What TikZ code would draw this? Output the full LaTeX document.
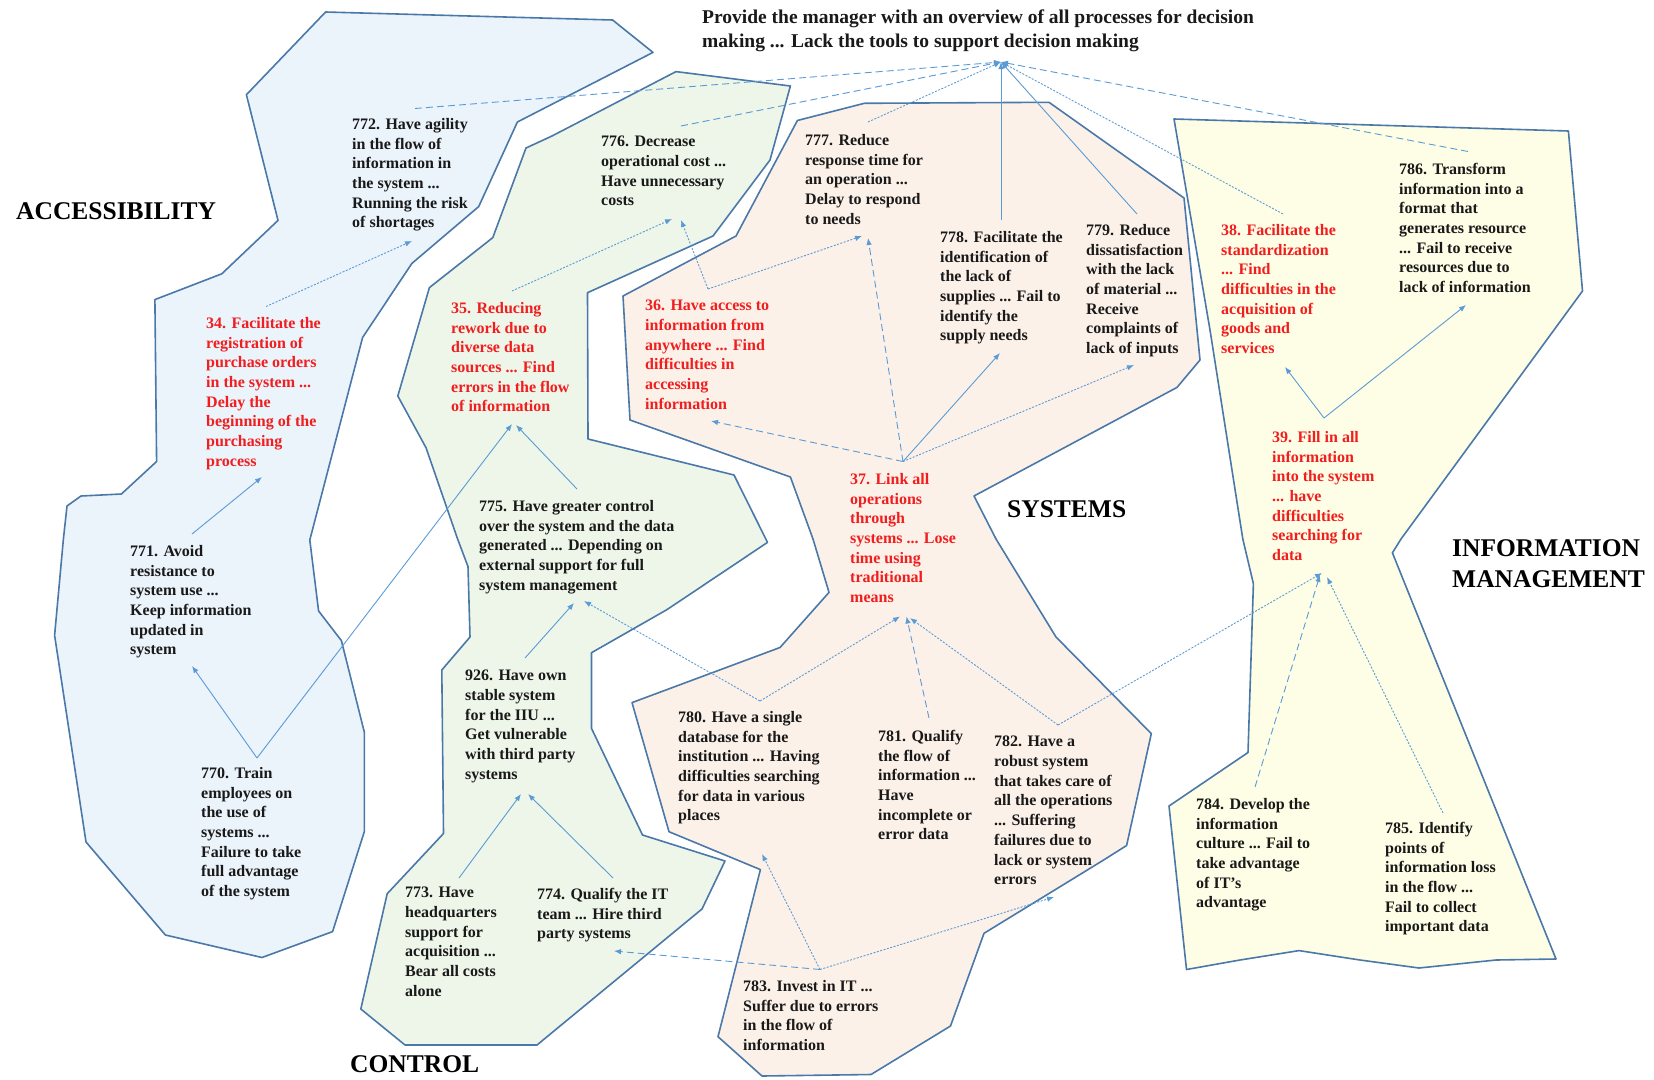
\documentclass[tikz,border=0pt]{standalone}
\usepackage{fontspec}
\setmainfont{Liberation Serif}
\usetikzlibrary{positioning, calc, arrows.meta}

\definecolor{accfill}{RGB}{235,243,251}
\definecolor{ctlfill}{RGB}{238,246,233}
\definecolor{sysfill}{RGB}{252,241,233}
\definecolor{infofill}{RGB}{254,254,230}
\definecolor{zoneline}{RGB}{74,120,168}
\definecolor{linkblue}{RGB}{91,155,213}
\definecolor{goalred}{RGB}{240,30,30}

\begin{document}
\begin{tikzpicture}[x=1pt, y=-1pt,
		box/.style={anchor=north west, inner sep=0pt, align=left, text=black!90, font=\bfseries\fontsize{16}{19.7}\selectfont},
		goalbox/.style={box, text=goalred},
		area/.style={anchor=west, inner sep=0pt, align=left, font=\bfseries\fontsize{25.5}{31}\selectfont},
		zone/.style={draw=zoneline, line width=1.6pt, line join=round},
		solidlink/.style={draw=linkblue, line width=0.9pt, -{Latex[length=7pt,width=5.5pt]}},
		dashedlink/.style={solidlink, dash pattern=on 7pt off 4pt},
		dottedlink/.style={solidlink, dash pattern=on 2pt off 1.5pt}]
			\useasboundingbox (0,0) rectangle (1654,1079);
			
			\draw [zone, fill=accfill] (325.6,12) -- (612.6,20) -- (653,52.4) -- (517.4,122) -- (478.7,206.6) -- (411.8,263.5) -- (362.6,337.5) -- (309.8,540) -- (318.6,611) -- (341.4,640.6) -- (364.3,732) -- (364.3,831.7) -- (332.6,931.6) -- (262,957.5) -- (165.4,935) -- (86,842) -- (54.6,635.4) -- (63.4,539) -- (67,506) -- (81,496) -- (121.4,494) -- (156.6,461.5) -- (154.9,299.6) -- (221.8,273.8) -- (278,220.4) -- (246.4,94.7) -- cycle;
			\draw [zone, fill=ctlfill] (676,71.6) -- (790.4,86) -- (770,160) -- (713,236) -- (587.5,292.7) -- (588,439) -- (734,475) -- (767.5,542.4) -- (667,609.6) -- (591.5,652.7) -- (591.5,728.4) -- (642.5,835) -- (725,861) -- (702,909) -- (537,1045) -- (405,1045) -- (360.8,1009) -- (387.2,893.7) -- (443.5,833.5) -- (441.8,670) -- (470,637) -- (468,566.6) -- (457.6,539) -- (426,447.7) -- (397.8,396) -- (429.4,287.6) -- (492.8,237.6) -- (526,148) -- (552,136) -- cycle;
			\draw [zone, fill=sysfill] (864.3,103.3) -- (1049,102.3) -- (1184,198) -- (1200,360) -- (1177,387.4) -- (974,496) -- (996,539) -- (1056,637) -- (1151.3,733.6) -- (1126.6,845.5) -- (1102,861) -- (984,933.3) -- (950.5,1026) -- (871,1074.5) -- (762,1076) -- (718,1036.7) -- (760.4,869.6) -- (669,831.7) -- (632,702.6) -- (780,647.5) -- (829,592.4) -- (813,539) -- (790.4,477) -- (630,420) -- (623,296) -- (736,236) -- (797.4,120.5) -- cycle;
			\draw [zone, fill=infofill] (1174,119) -- (1568.4,131) -- (1582.5,291) -- (1401,539) -- (1392.4,552.8) -- (1556,959) -- (1496,960) -- (1419,968) -- (1360,960) -- (1299,950.6) -- (1240,960) -- (1186.5,969.5) -- (1169,806) -- (1248,752.5) -- (1253.4,583.8) -- (1242.8,539) -- (1210,330) -- cycle;
			
			\node (acc) [area] at (16,211) {ACCESSIBILITY};
			\node (ctl) [area] at (350,1064) {CONTROL};
			\node (sys) [area] at (1007,509.5) {SYSTEMS};
			\node (info) [area, anchor=north west] at (1452,539) {INFORMATION\\MANAGEMENT};
			
			\node (goal) [box, font=\bfseries\fontsize{19.5}{24}\selectfont] at (702,10) {Provide the manager with an overview of all processes for decision\\making ... Lack the tools to support decision making};
			
			\node (n772) [box] at (352,118) {772. Have agility\\in the flow of\\information in\\the system ...\\Running the risk\\of shortages};
			\node (n34) [goalbox] at (206,317) {34. Facilitate the\\registration of\\purchase orders\\in the system ...\\Delay the\\beginning of the\\purchasing\\process};
			\node (n771) [box] at (130,545) {771. Avoid\\resistance to\\system use ...\\Keep information\\updated in\\system};
			\node (n770) [box] at (201,767) {770. Train\\employees on\\the use of\\systems ...\\Failure to take\\full advantage\\of the system};
			
			\node (n776) [box] at (601,136) {776. Decrease\\operational cost ...\\Have unnecessary\\costs};
			\node (n35) [goalbox] at (451,302) {35. Reducing\\rework due to\\diverse data\\sources ... Find\\errors in the flow\\of information};
			\node (n775) [box] at (479,500) {775. Have greater control\\over the system and the data\\generated ... Depending on\\external support for full\\system management};
			\node (n926) [box] at (465,670) {926. Have own\\stable system\\for the IIU ...\\Get vulnerable\\with third party\\systems};
			\node (n773) [box] at (405,887) {773. Have\\headquarters\\support for\\acquisition ...\\Bear all costs\\alone};
			\node (n774) [box] at (537,888) {774. Qualify the IT\\team ... Hire third\\party systems};
			
			\node (n777) [box] at (805,134) {777. Reduce\\response time for\\an operation ...\\Delay to respond\\to needs};
			\node (n778) [box] at (940,231) {778. Facilitate the\\identification of\\the lack of\\supplies ... Fail to\\identify the\\supply needs};
			\node (n779) [box] at (1086,224) {779. Reduce\\dissatisfaction\\with the lack\\of material ...\\Receive\\complaints of\\lack of inputs};
			\node (n36) [goalbox] at (645,300) {36. Have access to\\information from\\anywhere ... Find\\difficulties in\\accessing\\information};
			\node (n37) [goalbox] at (850,473) {37. Link all\\operations\\through\\systems ... Lose\\time using\\traditional\\means};
			\node (n780) [box] at (678,711) {780. Have a single\\database for the\\institution ... Having\\difficulties searching\\for data in various\\places};
			\node (n781) [box] at (878,730) {781. Qualify\\the flow of\\information ...\\Have\\incomplete or\\error data};
			\node (n782) [box] at (994,736) {782. Have a\\robust system\\that takes care of\\all the operations\\... Suffering\\failures due to\\lack or system\\errors};
			\node (n783) [box] at (743,980) {783. Invest in IT ...\\Suffer due to errors\\in the flow of\\information};
			
			\node (n38) [goalbox] at (1221,224) {38. Facilitate the\\standardization\\... Find\\difficulties in the\\acquisition of\\goods and\\services};
			\node (n786) [box] at (1399,163) {786. Transform\\information into a\\format that\\generates resource\\... Fail to receive\\resources due to\\lack of information};
			\node (n39) [goalbox] at (1272,431) {39. Fill in all\\information\\into the system\\... have\\difficulties\\searching for\\data};
			\node (n784) [box] at (1196,798) {784. Develop the\\information\\culture ... Fail to\\take advantage\\of IT's\\advantage};
			\node (n785) [box] at (1385,822) {785. Identify\\points of\\information loss\\in the flow ...\\Fail to collect\\important data};
			
			\draw [dashedlink] ($(n772.north west)+(63,-9.5)$) -- ($(goal.north west)+(299,52)$);
			\draw [dashedlink] ($(n776.north west)+(80,-10)$) -- ($(goal.north west)+(299,52)$);
			\draw [dottedlink] ($(n777.north west)+(63,-12)$) -- ($(goal.north west)+(299,52)$);
			\draw [solidlink] ($(n778.north west)+(61,-11)$) -- ($(goal.north west)+(299,52)$);
			\draw [solidlink] ($(n779.north west)+(51,-10)$) -- ($(goal.north west)+(299,52)$);
			\draw [dottedlink] ($(n38.north west)+(62,-10)$) -- ($(goal.north west)+(299,52)$);
			\draw [dashedlink] ($(n786.north west)+(69,-11.5)$) -- ($(goal.north west)+(299,52)$);
			
			\draw [dottedlink] ($(n34.north west)+(60,-10.5)$) -- ($(n772.north west)+(60,123)$);
			\draw [solidlink] ($(n771.north west)+(62,-11)$) -- ($(n34.north west)+(56,160)$);
			\draw [solidlink] ($(n770.north west)+(56,-9)$) -- ($(n771.north west)+(62,121)$);
			\draw [solidlink] ($(n770.north west)+(56,-9)$) -- ($(n35.north west)+(61,122)$);
			
			\draw [dottedlink] ($(n35.north west)+(61,-11)$) -- ($(n776.north west)+(71,83)$);
			\draw [dottedlink] ($(n36.north west)+(63,-11)$) -- ($(n776.north west)+(80,84)$);
			\draw [dottedlink] ($(n36.north west)+(63,-11)$) -- ($(n777.north west)+(57,102)$);
			\draw [solidlink] ($(n775.north west)+(98,-11)$) -- ($(n35.north west)+(65,123)$);
			\draw [solidlink] ($(n926.north west)+(60,-12)$) -- ($(n775.north west)+(95,103)$);
			\draw [solidlink] ($(n773.north west)+(54,-9)$) -- ($(n926.north west)+(56,124)$);
			\draw [solidlink] ($(n774.north west)+(76,-10)$) -- ($(n926.north west)+(63,124)$);
			
			\draw [dashedlink] ($(n37.north west)+(53,-11.5)$) -- ($(n36.north west)+(66,121)$);
			\draw [dashedlink] ($(n37.north west)+(53,-11.5)$) -- ($(n777.north west)+(63,104)$);
			\draw [solidlink] ($(n37.north west)+(53,-11.5)$) -- ($(n778.north west)+(60,122)$);
			\draw [dottedlink] ($(n37.north west)+(53,-11.5)$) -- ($(n779.north west)+(48,141)$);
			\draw [dottedlink] ($(n780.north west)+(82,-10)$) -- ($(n775.north west)+(105,101)$);
			\draw [dottedlink] ($(n780.north west)+(82,-10)$) -- ($(n37.north west)+(50,143.5)$);
			\draw [dashedlink] ($(n781.north west)+(51,-12)$) -- ($(n37.north west)+(56.5,143.5)$);
			\draw [dottedlink] ($(n782.north west)+(64,-11)$) -- ($(n37.north west)+(60,145)$);
			\draw [dottedlink] ($(n782.north west)+(64,-11)$) -- ($(n39.north west)+(50,142)$);
			\draw [dashedlink] ($(n783.north west)+(77,-10.5)$) -- ($(n774.north west)+(77,63)$);
			\draw [dottedlink] ($(n783.north west)+(77,-10.5)$) -- ($(n780.north west)+(84,143)$);
			\draw [dottedlink] ($(n783.north west)+(77,-10.5)$) -- ($(n782.north west)+(60,161)$);
			
			\draw [solidlink] ($(n39.north west)+(52,-13)$) -- ($(n38.north west)+(64,143)$);
			\draw [solidlink] ($(n39.north west)+(52,-13)$) -- ($(n786.north west)+(67,142)$);
			\draw [dashedlink] ($(n784.north west)+(59,-11)$) -- ($(n39.north west)+(48,144)$);
			\draw [dottedlink] ($(n785.north west)+(58,-9)$) -- ($(n39.north west)+(55,146)$);
		\end{tikzpicture}
\end{document}
